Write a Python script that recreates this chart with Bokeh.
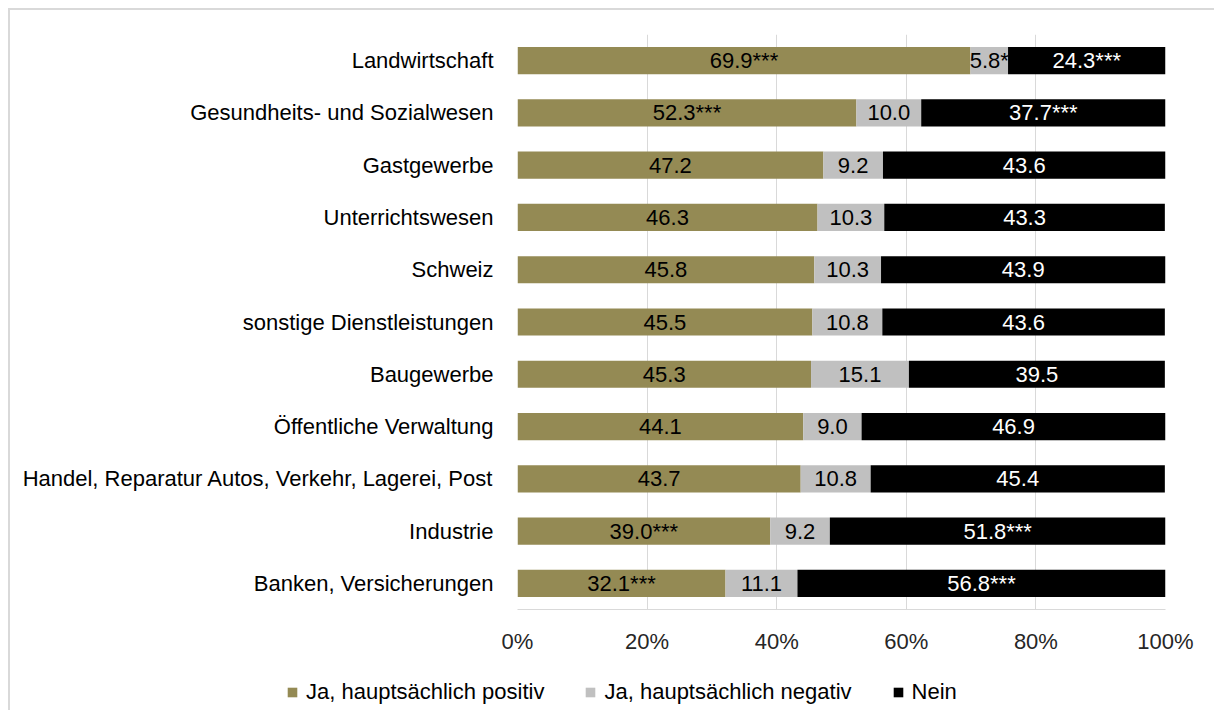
from bokeh.plotting import figure
from bokeh.models import (FactorRange, Range1d, ColumnDataSource, Legend, LegendItem,
                          FixedTicker, CustomJSTickFormatter)
from bokeh.core.properties import value
from bokeh.embed import file_html
from bokeh.resources import INLINE

categories = ["Landwirtschaft", "Gesundheits- und Sozialwesen", "Gastgewerbe",
              "Unterrichtswesen", "Schweiz", "sonstige Dienstleistungen", "Baugewerbe",
              "Öffentliche Verwaltung", "Handel, Reparatur Autos, Verkehr, Lagerei, Post",
              "Industrie", "Banken, Versicherungen"]
positiv = [69.9, 52.3, 47.2, 46.3, 45.8, 45.5, 45.3, 44.1, 43.7, 39.0, 32.1]
negativ = [5.8, 10.0, 9.2, 10.3, 10.3, 10.8, 15.1, 9.0, 10.8, 9.2, 11.1]
nein = [24.3, 37.7, 43.6, 43.3, 43.9, 43.6, 39.5, 46.9, 45.4, 51.8, 56.8]
sig_positiv = ["***", "***", "", "", "", "", "", "", "", "***", "***"]
sig_negativ = ["*", "", "", "", "", "", "", "", "", "", ""]
sig_nein = ["***", "***", "", "", "", "", "", "", "", "***", "***"]
series_names = ["Ja, hauptsächlich positiv", "Ja, hauptsächlich negativ", "Nein"]
series_colors = ["#948A54", "#C0C0C0", "#000000"]
label_colors = ["#000000", "#000000", "#FFFFFF"]
x_ticks = [0, 20, 40, 60, 80, 100]

FONT = "Liberation Sans"
FS = "22px"

p = figure(width=1206, height=650, output_backend="svg", toolbar_location=None,
           x_range=Range1d(0, 100), y_range=FactorRange(factors=list(reversed(categories))),
           min_border_left=507, min_border_right=51, min_border_top=24, min_border_bottom=51)
p.styles = {"margin-left": "8px", "margin-top": "8px",
            "border-top": "2px solid #d9d9d9", "border-left": "2px solid #d9d9d9"}
p.outline_line_color = None
p.background_fill_color = "white"
p.border_fill_color = "white"

series = [positiv, negativ, nein]
sigs = [sig_positiv, sig_negativ, sig_nein]
left = [0.0] * len(categories)
for vals, sg, name, col, lcol in zip(series, sigs, series_names, series_colors, label_colors):
    right = [l + v for l, v in zip(left, vals)]
    src = ColumnDataSource(dict(
        cat=categories, left=left, right=right,
        mid=[(l + r) / 2 for l, r in zip(left, right)],
        lab=[f"{v:.1f}{s}" for v, s in zip(vals, sg)],
    ))
    p.hbar(y="cat", left="left", right="right", height=0.52, source=src,
           fill_color=col, line_color=None)
    p.text(x="mid", y="cat", text="lab", source=src, text_align="center",
           text_baseline="middle", text_color=lcol, text_font=value(FONT),
           text_font_size=FS)
    left = right

# axes
p.xaxis.ticker = FixedTicker(ticks=x_ticks)
p.xaxis.formatter = CustomJSTickFormatter(code="return tick + '%';")
p.xaxis.axis_line_color = "#d9d9d9"
p.xaxis.major_tick_line_color = None
p.xaxis.minor_tick_line_color = None
p.xaxis.major_label_text_font = FONT
p.xaxis.major_label_text_font_size = FS
p.xaxis.major_label_text_color = "#262626"
p.xaxis.major_label_standoff = 13

p.yaxis.axis_line_color = None
p.yaxis.major_tick_line_color = None
p.yaxis.minor_tick_line_color = None
p.yaxis.major_label_text_font = FONT
p.yaxis.major_label_text_font_size = FS
p.yaxis.major_label_text_color = "#000000"
p.yaxis.major_label_standoff = 18

p.xgrid.grid_line_color = "#d9d9d9"
p.xgrid.ticker = FixedTicker(ticks=x_ticks)
p.ygrid.grid_line_color = None

# legend strip (separate root so nothing is clipped or aligned)
lg = figure(width=1206, height=52, output_backend="svg", toolbar_location=None,
            x_range=Range1d(0, 1), y_range=Range1d(0, 1),
            x_axis_type=None, y_axis_type=None,
            min_border_left=0, min_border_right=0, min_border_top=0, min_border_bottom=0)
lg.styles = {"margin-left": "8px", "border-left": "2px solid #d9d9d9"}
lg.outline_line_color = None
lg.grid.grid_line_color = None
lg.border_fill_color = "white"
lg.background_fill_color = "white"
items = []
for name, col in zip(series_names, series_colors):
    r = lg.hbar(y=[float("nan")], left=[0], right=[0], height=0.5,
                fill_color=col, line_color=None)
    items.append(LegendItem(label=name, renderers=[r]))
legend = Legend(items=items, orientation="horizontal", location=(276, 5),
                glyph_width=12, glyph_height=12, label_standoff=8, spacing=40,
                padding=0, margin=0, border_line_color=None, background_fill_alpha=0,
                label_text_font=FONT, label_text_font_size=FS, label_text_color="#000000")
lg.add_layout(legend, "center")

open("out.html", "w").write(file_html([p, lg], INLINE))
